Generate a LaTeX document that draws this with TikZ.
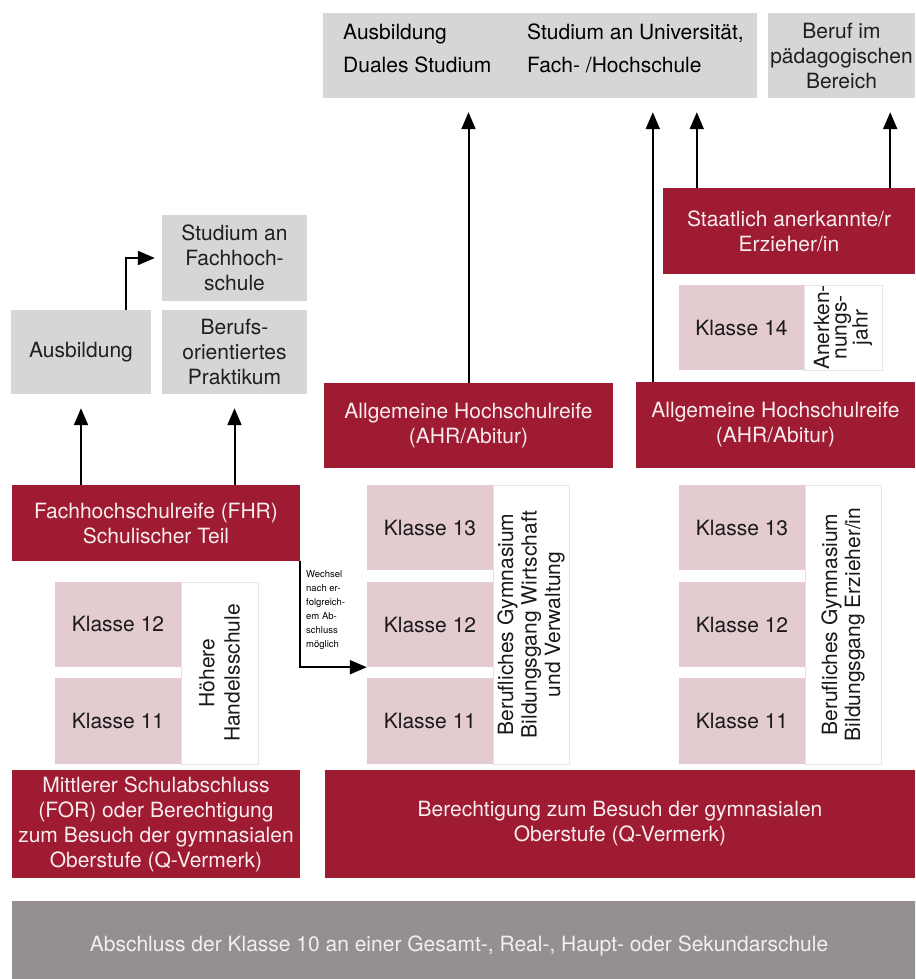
\documentclass[tikz,border=0pt]{standalone}
\usepackage{fontspec}
\setmainfont{TeX Gyre Heros}
\usetikzlibrary{arrows.meta}
\definecolor{dunkelrot}{RGB}{158,27,50}
\definecolor{hellgrau}{RGB}{214,214,214}
\definecolor{rosa}{RGB}{227,203,208}
\definecolor{steingrau}{RGB}{150,143,145}
\definecolor{weisslich}{RGB}{248,236,238}
\tikzset{
	box/.style={inner sep=0pt, align=center, font=\fontsize{21}{25}\selectfont},
	rotbox/.style={box, fill=dunkelrot, text=weisslich},
	graubox/.style={box, fill=hellgrau, text=black!88},
	klasse/.style={box, fill=rosa, text=black!90, minimum width=126pt, minimum height=85pt},
	schild/.style={box, draw=black!10, line width=0.6pt, fill=white, text=black!90, rotate=90},
	pfeil/.style={line width=2pt, shorten >=14pt, -{Triangle[length=17pt,width=14pt]}}
}

\begin{document}
\begin{tikzpicture}[x=1pt,y=-1pt]
					\path[use as bounding box, clip] (0,0) rectangle (915,979);
					%Kaesten oben
					\node[graubox, minimum width=434pt, minimum height=85pt] (weg) at (540,55.5) {};
					\node[graubox, minimum width=147pt, minimum height=85pt] (beruf) at (841.5,55.5) {Beruf im\\pädagogischen\\Bereich};
					\node[box, anchor=west, align=left, font=\fontsize{21}{33}\selectfont] (ausbOben) at (343,48.5) {Ausbildung\\Duales Studium};
					\node[box, anchor=west, align=left, font=\fontsize{21}{33}\selectfont] (studOben) at (527,48.5) {Studium an Universität,\\Fach- /Hochschule};
					%Linke Spalte
					\node[graubox, minimum width=145pt, minimum height=86pt] (studFH) at (234.5,258) {Studium an\\Fachhoch-\\schule};
					\node[graubox, minimum width=140pt, minimum height=84pt] (ausbL) at (81,352) {Ausbildung};
					\node[graubox, minimum width=145pt, minimum height=84pt] (praktikum) at (234.5,352) {Berufs-\\orientiertes\\Praktikum};
					\node[rotbox, minimum width=288pt, minimum height=76pt] (fhr) at (156,523) {Fachhochschulreife (FHR)\\Schulischer Teil};
					\node[klasse] (k12L) at (118,624) {Klasse 12};
					\node[klasse, minimum height=86pt] (k11L) at (118,721) {Klasse 11};
					\node[schild, minimum width=182pt, minimum height=77pt] (hhs) at (219.5,673) {Höhere\\Handelsschule};
					\node[rotbox, minimum width=288pt, minimum height=108pt] (msa) at (156,824) {Mittlerer Schulabschluss\\(FOR) oder Berechtigung\\zum Besuch der gymnasialen\\Oberstufe (Q-Vermerk)};
					%Mittlere Spalte
					\node[rotbox, minimum width=289pt, minimum height=85pt] (ahrM) at (468.5,425.5) {Allgemeine Hochschulreife\\(AHR/Abitur)};
					\node[klasse] (k13M) at (430,527.5) {Klasse 13};
					\node[klasse] (k12M) at (430,624.5) {Klasse 12};
					\node[klasse, minimum height=86pt] (k11M) at (430,721) {Klasse 11};
					\node[schild, minimum width=279pt, minimum height=76pt, font=\fontsize{21}{23.5}\selectfont] (bgW) at (531,624.5) {Berufliches Gymnasium\\Bildungsgang Wirtschaft\\und Verwaltung};
					%Rechte Spalte
					\node[rotbox, minimum width=252pt, minimum height=86pt] (staatl) at (789,231) {Staatlich anerkannte/r\\Erzieher/in};
					\node[klasse, minimum width=125pt] (k14) at (741.5,327.5) {Klasse 14};
					\node[schild, minimum width=85pt, minimum height=78pt, font=\fontsize{21}{17.5}\selectfont] (anerk) at (843,327.5) {Anerken-\\nungs-\\jahr};
					\node[rotbox, minimum width=279pt, minimum height=86pt] (ahrR) at (775.5,425) {Allgemeine Hochschulreife\\(AHR/Abitur)};
					\node[klasse] (k13R) at (742,527.5) {Klasse 13};
					\node[klasse] (k12R) at (742,624.5) {Klasse 12};
					\node[klasse, minimum height=86pt] (k11R) at (742,721) {Klasse 11};
					\node[schild, minimum width=279pt, minimum height=76pt, font=\fontsize{21}{23}\selectfont] (bgE) at (843,624.5) {Berufliches Gymnasium\\Bildungsgang Erzieher/in};
					\node[rotbox, minimum width=590pt, minimum height=108pt] (berecht) at (620,824) {Berechtigung zum Besuch der gymnasialen\\Oberstufe (Q-Vermerk)};
					%Unten
					\fill[steingrau] (12,901) rectangle (930,990);
					\node[box, text=white!94!black] (abschluss) at (459,946) {Abschluss der Klasse 10 an einer Gesamt-, Real-, Haupt- oder Sekundarschule};
					%Pfeile
					\coordinate (a1) at ([xshift=17pt]ahrR.north west);
					\coordinate (a2) at ([xshift=34pt]staatl.north west);
					\coordinate (a3) at ([xshift=-25pt]staatl.north east);
					\draw[pfeil] (fhr.north -| ausbL.south) -- (ausbL.south);
					\draw[pfeil] (fhr.north -| praktikum.south) -- (praktikum.south);
					\draw[pfeil, shorten >=7pt] ([xshift=45pt]ausbL.north) |- (studFH.west);
					\draw[pfeil] (ahrM.north) -- (ahrM.north |- weg.south);
					\draw[pfeil] (a1) -- (a1 |- weg.south);
					\draw[pfeil] (a2) -- (a2 |- weg.south);
					\draw[pfeil] (a3) -- (a3 |- beruf.south);
					\draw[pfeil, shorten >=0pt] (fhr.south east) |- (k12M.south west);
					%Beschriftung Pfeil
					\node[box, anchor=west, align=left, font=\fontsize{9.5}{14}\selectfont] (wechsel) at (306,610) {Wechsel\\nach er-\\folgreich-\\em Ab-\\schluss\\möglich};
				\end{tikzpicture}
\end{document}
